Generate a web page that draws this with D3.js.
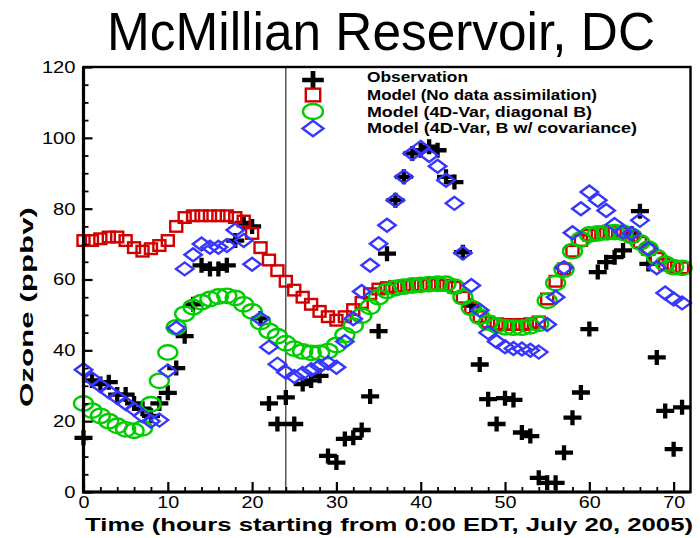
<!DOCTYPE html>
<html>
<head>
<meta charset="utf-8">
<script src="https://cdn.jsdelivr.net/npm/d3@7"></script>
<style>
  html, body { margin: 0; padding: 0; background: #fff; }
  svg { display: block; }
</style>
</head>
<body>
<svg id="chart" width="700" height="538"></svg>
<script>
// Hourly ozone at McMillian Reservoir, starting 0:00 EDT July 20, 2005
const hours = d3.range(0, 72);

const observation = [
  15.3, 31.5, 30.5, 31.0, 27.5, 27.5, 25.0, 23.5, 21.5, 25.0,
  28.0, 35.0, 44.0, 53.0, 64.0, 63.0, 63.0, 64.0, 71.0, 76.0,
  75.0, 49.0, 25.0, 19.2, 26.7, 19.2, 30.5, 31.5, 32.8, 10.2,
   8.3, 15.0, 15.3, 17.5, 27.0, 45.4, 67.3, 82.4, 89.0, 95.6,
  96.5, 97.5, 96.5, 89.0, 87.5, 67.7, 52.6, 36.0, 26.2, 19.2,
  26.5, 26.0, 16.8, 15.8,  4.0,  2.6,  2.6, 11.1, 21.0, 28.1,
  46.0, 62.1, 64.9, 66.3, 68.2, 73.0, 79.3, 64.4, 38.0, 22.9,
  12.1, 23.9
];

const modelNoDA = [
  71.0, 71.0, 71.5, 72.0, 72.0, 71.0, 69.0, 68.0, 68.7, 69.6,
  71.0, 75.0, 77.5, 78.0, 78.0, 78.0, 78.0, 78.0, 77.5, 76.5,
  73.0, 69.0, 65.5, 62.5, 59.5, 57.0, 55.0, 53.0, 51.0, 49.5,
  48.5, 49.5, 51.5, 53.5, 56.0, 57.3, 57.7, 58.0, 58.2, 58.4,
  58.5, 58.6, 58.6, 58.4, 57.8, 55.0, 52.0, 49.5, 48.0, 47.5,
  47.3, 47.3, 47.3, 47.5, 48.0, 54.5, 59.5, 63.0, 68.0, 71.0,
  72.5, 73.0, 73.2, 73.3, 73.0, 72.2, 70.5, 68.5, 66.0, 64.3,
  63.5, 63.3
];

const modelDiagB = [
  25.0, 23.0, 21.5, 20.0, 18.7, 17.7, 17.3, 18.0, 24.8, 31.4,
  39.4, 46.5, 50.3, 52.2, 53.6, 54.5, 55.2, 55.4, 54.8, 53.0,
  51.0, 48.0, 45.5, 44.0, 42.0, 40.5, 39.7, 39.3, 39.3, 39.8,
  41.5, 44.3, 47.0, 49.8, 52.3, 55.0, 56.8, 57.6, 58.0, 58.3,
  58.5, 58.7, 58.8, 58.8, 58.0, 55.0, 52.0, 49.5, 47.8, 47.0,
  46.5, 46.4, 46.4, 46.8, 47.5, 54.0, 59.0, 62.8, 68.0, 71.3,
  72.7, 73.0, 73.3, 73.4, 73.2, 72.3, 70.5, 68.7, 66.3, 64.5,
  63.5, 63.3
];

const modelCovB = [
  34.5, 32.0, 30.0, 28.3, 26.7, 25.0, 23.4, 21.5, 20.0, 20.3,
  34.2, 46.3, 63.0, 67.0, 70.0, 69.1, 69.1, 69.6, 74.0, 71.0,
  64.3, 48.9, 40.9, 36.1, 33.8, 32.6, 33.5, 34.5, 35.5, 36.4,
  35.2, 42.5, 48.9, 56.6, 64.0, 70.1, 75.3, 82.4, 89.0, 95.6,
  97.3, 95.0, 92.0, 88.0, 81.5, 67.5, 58.3, 51.3, 45.0, 42.5,
  41.0, 40.5, 40.4, 40.0, 39.5, 47.3, 55.0, 63.3, 73.2, 80.0,
  84.7, 82.4, 79.5, 75.5, 73.4, 73.0, 76.7, 68.7, 63.3, 56.2,
  54.5, 53.4
];

const xMajorTicks = [0, 10, 20, 30, 40, 50, 60, 70];
const yMajorTicks = [0, 20, 40, 60, 80, 100, 120];
const assimilationEnd = 24;

const legendLabels = [
  "Observation",
  "Model (No data assimilation)",
  "Model (4D-Var, diagonal B)",
  "Model (4D-Var, B w/ covariance)"
];
const legendWidths = [101, 230, 225, 270];

const RED = "#d00000", GREEN = "#00cc00", BLUE = "#3636ff";

const svg = d3.select("#chart");
const x = d3.scaleLinear().domain([0, 72]).range([83.5, 690.5]);
const y = d3.scaleLinear().domain([0, 120]).range([492, 67]);

// Title
svg.append("text")
  .attr("x", 107).attr("y", 50)
  .attr("textLength", 548).attr("lengthAdjust", "spacingAndGlyphs")
  .style("font-family", "'Liberation Sans Narrow', 'Arial Narrow', 'Liberation Sans', Arial, sans-serif")
  .style("font-size", "53px")
  .text("McMillian Reservoir, DC");

// End of assimilation window
svg.append("line")
  .attr("x1", x(assimilationEnd)).attr("x2", x(assimilationEnd))
  .attr("y1", y(120)).attr("y2", y(0))
  .attr("stroke", "#000").attr("stroke-width", 1);

// Marker shapes
function plusPath(w, h) { return `M${-w},0H${w}M0,${-h}V${h}`; }
function diamondPath(w, h) { return `M0,${-h}L${w},0L0,${h}L${-w},0Z`; }

const series = [
  { values: observation, kind: "plus" },
  { values: modelNoDA, kind: "square" },
  { values: modelDiagB, kind: "circle" },
  { values: modelCovB, kind: "diamond" }
];

function drawMarker(g, kind, big) {
  const s = big ? 1.2 : 1;
  if (kind === "plus") {
    g.append("path").attr("d", plusPath(9 * s, 7.5 * s))
      .attr("fill", "none").attr("stroke", "#000").attr("stroke-width", 4.3 * (big ? 1.1 : 1));
  } else if (kind === "square") {
    g.append("rect").attr("x", -6 * s).attr("y", -5.3 * s).attr("width", 12 * s).attr("height", 10.6 * s)
      .attr("fill", "none").attr("stroke", RED).attr("stroke-width", 2.4);
  } else if (kind === "circle") {
    g.append("ellipse").attr("rx", 9.5 * (big ? 1.05 : 1)).attr("ry", 7.2 * (big ? 1.05 : 1))
      .attr("fill", "none").attr("stroke", GREEN).attr("stroke-width", 2.4);
  } else {
    g.append("path").attr("d", diamondPath(8.7 * s, 6.5 * s))
      .attr("fill", "none").attr("stroke", BLUE).attr("stroke-width", 2.4);
  }
}

series.forEach(sr => {
  const layer = svg.append("g");
  layer.selectAll("g.pt")
    .data(hours.map((h, i) => ({ h, v: sr.values[i] })))
    .join("g")
    .attr("class", "pt")
    .attr("transform", d => `translate(${x(d.h)},${y(d.v)})`)
    .each(function () { drawMarker(d3.select(this), sr.kind, false); });
});

// Axes with inward ticks
const tickFont = "'Liberation Sans', Arial, Helvetica, sans-serif";

const yMinor = d3.range(0, 121, 5).filter(v => v % 20 !== 0);
svg.append("g").attr("transform", `translate(${x(0)},0)`)
  .call(d3.axisLeft(y).tickValues(yMinor).tickSize(-5).tickFormat(""))
  .call(g => g.select(".domain").remove())
  .call(g => g.selectAll("line").attr("stroke-width", 1.8));
svg.append("g").attr("transform", `translate(${x(0)},0)`)
  .call(d3.axisLeft(y).tickValues(yMajorTicks).tickSize(-9).tickPadding(8))
  .call(g => g.select(".domain").remove())
  .call(g => g.selectAll("line").attr("stroke-width", 2.2))
  .call(g => g.selectAll("text")
    .attr("textLength", d => String(d).length * 11.2)
    .attr("lengthAdjust", "spacingAndGlyphs")
    .style("font-family", tickFont).style("font-size", "17px").attr("fill", "#000"));

const xMinor = d3.range(0, 72, 2).filter(v => v % 10 !== 0);
svg.append("g").attr("transform", `translate(0,${y(0)})`)
  .call(d3.axisBottom(x).tickValues(xMinor).tickSize(-5).tickFormat(""))
  .call(g => g.select(".domain").remove())
  .call(g => g.selectAll("line").attr("stroke-width", 1.8));
svg.append("g").attr("transform", `translate(0,${y(0)})`)
  .call(d3.axisBottom(x).tickValues(xMajorTicks).tickSize(-10).tickPadding(4))
  .call(g => g.select(".domain").remove())
  .call(g => g.selectAll("line").attr("stroke-width", 2.2))
  .call(g => g.selectAll("text")
    .attr("textLength", d => String(d).length * 11)
    .attr("lengthAdjust", "spacingAndGlyphs")
    .style("font-family", tickFont).style("font-size", "17px").attr("fill", "#000"));

// Plot frame
svg.append("rect")
  .attr("x", x(0)).attr("y", y(120))
  .attr("width", x(72) - x(0)).attr("height", y(0) - y(120))
  .attr("fill", "none").attr("stroke", "#000").attr("stroke-width", 2.4);
svg.append("path")
  .attr("d", `M${x(0)},${y(120)}V${y(0)}H${x(72)}`)
  .attr("fill", "none").attr("stroke", "#000").attr("stroke-width", 3.2);

// Axis titles
svg.append("text")
  .attr("transform", `translate(33,307) rotate(-90)`)
  .attr("text-anchor", "middle")
  .attr("textLength", 200).attr("lengthAdjust", "spacingAndGlyphs")
  .style("font-family", tickFont).style("font-size", "19px").style("font-weight", "bold")
  .text("Ozone (ppbv)");

svg.append("text")
  .attr("x", 85).attr("y", 531)
  .attr("textLength", 608).attr("lengthAdjust", "spacingAndGlyphs")
  .style("font-family", tickFont).style("font-size", "18px").style("font-weight", "bold")
  .text("Time (hours starting from 0:00 EDT, July 20, 2005)");

// Legend
const legendRows = [80, 95, 111.5, 128.5];
const legendBase = [82, 99.5, 116.5, 132.5];
series.forEach((sr, i) => {
  const g = svg.append("g").attr("transform", `translate(313,${legendRows[i]})`);
  drawMarker(g, sr.kind, true);
  svg.append("text")
    .attr("x", 367).attr("y", legendBase[i])
    .attr("textLength", legendWidths[i]).attr("lengthAdjust", "spacingAndGlyphs")
    .style("font-family", tickFont).style("font-size", "14px").style("font-weight", "bold")
    .text(legendLabels[i]);
});
</script>
</body>
</html>
